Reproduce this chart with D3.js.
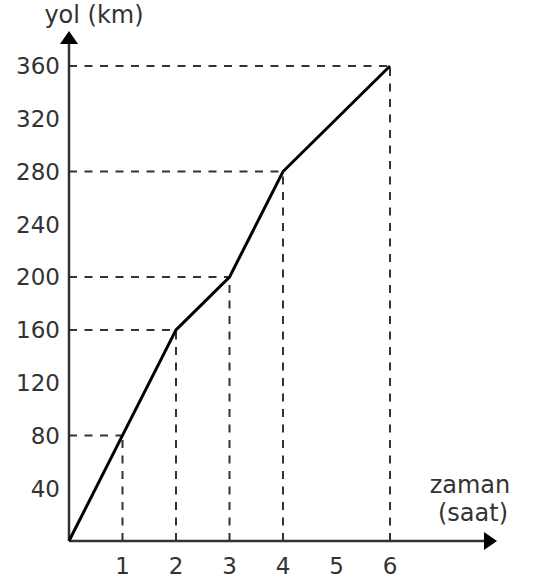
<!DOCTYPE html>
<html><head><meta charset="utf-8">
<script src="https://cdn.jsdelivr.net/npm/d3@7"></script>
<style>body{margin:0;background:#fff}svg{display:block}text{font-family:"DejaVu Sans",Verdana,sans-serif;fill:#333}</style>
</head><body>
<script>
const times = [0, 1, 2, 3, 4, 6];
const distances = [0, 80, 160, 200, 280, 360];
const yTicks = [40, 80, 120, 160, 200, 240, 280, 320, 360];
const xTicks = [1, 2, 3, 4, 5, 6];
const yTitle = "yol (km)";
const xTitle = ["zaman", "(saat)"];

const W = 535, H = 580;
const ox = 69, oy = 541;
const x = d3.scaleLinear().domain([0, 6]).range([ox, 390]);
const y = d3.scaleLinear().domain([0, 360]).range([oy, 66]);

const svg = d3.select("body").append("svg").attr("width", W).attr("height", H);
const axisColor = "#333";

// dashed guides
const pts = times.map((t, i) => [t, distances[i]]).filter(p => p[0] > 0);
svg.selectAll("line.gv").data(pts).join("line")
  .attr("x1", d => x(d[0])).attr("x2", d => x(d[0]))
  .attr("y1", oy).attr("y2", d => y(d[1]))
  .attr("stroke", axisColor).attr("stroke-width", 2).attr("stroke-dasharray", "8,7.5");
svg.selectAll("line.gh").data(pts).join("line")
  .attr("x1", ox).attr("x2", d => x(d[0]))
  .attr("y1", d => y(d[1])).attr("y2", d => y(d[1]))
  .attr("stroke", axisColor).attr("stroke-width", 2).attr("stroke-dasharray", "8,7.5");

// axes
svg.append("line").attr("x1", ox).attr("x2", ox).attr("y1", oy).attr("y2", 40)
  .attr("stroke", axisColor).attr("stroke-width", 2.5);
svg.append("path").attr("d", `M${ox-9},${44} L${ox},${31} L${ox+9},${44} Z`).attr("fill", "#000");
svg.append("line").attr("x1", ox).attr("x2", 488).attr("y1", oy).attr("y2", oy)
  .attr("stroke", axisColor).attr("stroke-width", 2.5);
svg.append("path").attr("d", `M${484},${oy-9} L${497},${oy} L${484},${oy+9} Z`).attr("fill", "#000");

// y labels
svg.selectAll("text.yl").data(yTicks).join("text")
  .attr("x", 60).attr("y", d => y(d)).attr("dy", "0.36em")
  .attr("text-anchor", "end").attr("font-size", 23).text(d => d);
// x labels
svg.selectAll("text.xl").data(xTicks).join("text")
  .attr("x", d => x(d)).attr("y", 574)
  .attr("text-anchor", "middle").attr("font-size", 23).text(d => d);

// titles
svg.append("text").attr("x", 94).attr("y", 23).attr("text-anchor", "middle").attr("font-size", 24).text(yTitle);
svg.append("text").attr("x", 470).attr("y", 493).attr("text-anchor", "middle").attr("font-size", 24).text(xTitle[0]);
svg.append("text").attr("x", 473).attr("y", 521).attr("text-anchor", "middle").attr("font-size", 24).text(xTitle[1]);

// data line
const line = d3.line().x((d, i) => x(times[i])).y(d => y(d));
svg.append("path").datum(distances).attr("d", line)
  .attr("fill", "none").attr("stroke", "#000").attr("stroke-width", 3).attr("stroke-linejoin", "miter");
</script>
</body></html>
